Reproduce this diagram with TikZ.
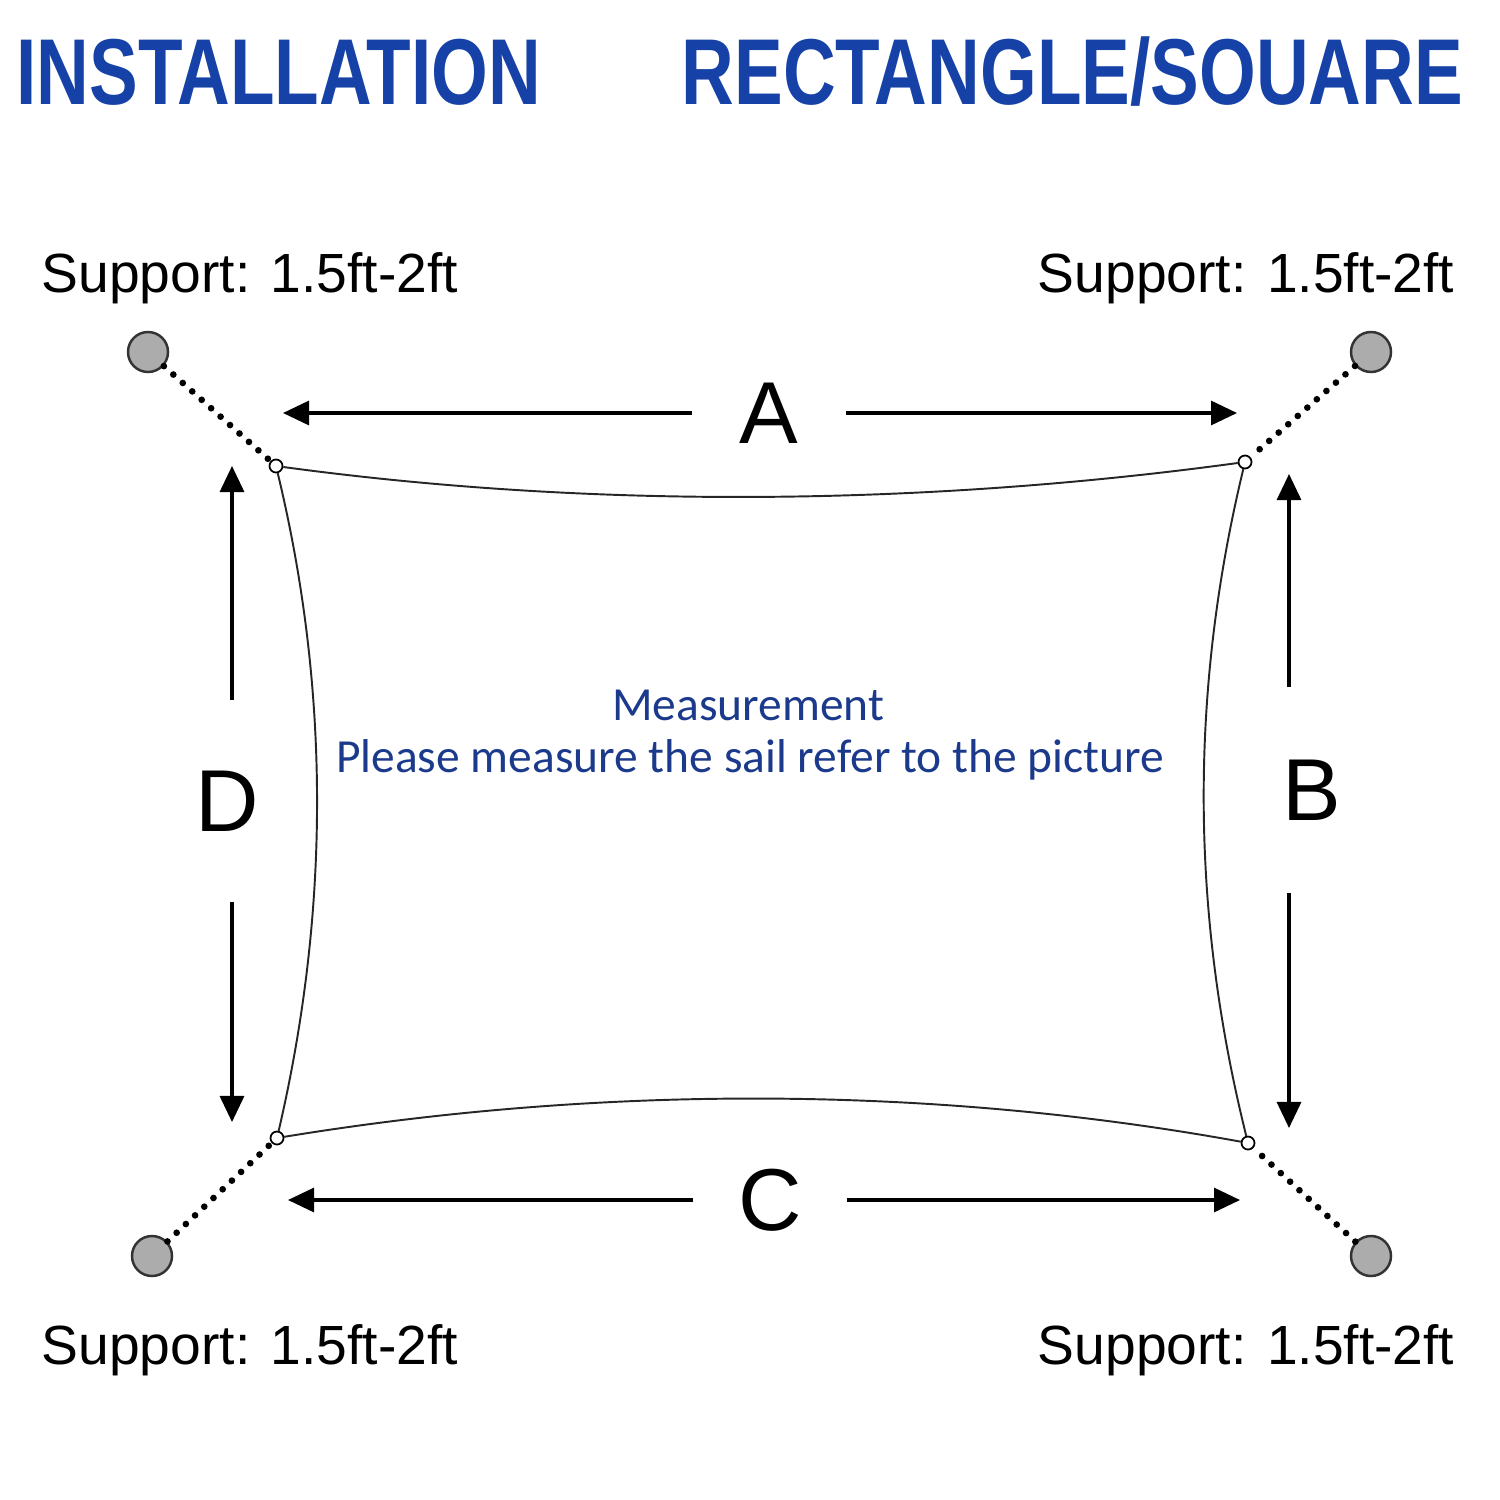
\documentclass[tikz,border=0pt]{standalone}
\usepackage{fontspec}
\setmainfont{Liberation Sans}
\newfontfamily\titlefont[FakeStretch=0.78]{Liberation Sans}
\newfontfamily\notefont{Carlito}
\usetikzlibrary{arrows.meta}
\definecolor{titleblue}{RGB}{22,66,168}
\definecolor{noteblue}{RGB}{28,58,140}
\definecolor{polegray}{RGB}{172,172,172}

\begin{document}
\begin{tikzpicture}[
        x=0.01cm, y=-0.01cm,
        title/.style={font=\titlefont\bfseries\fontsize{26.6}{30}\selectfont, text=titleblue, inner sep=0pt, anchor=base west},
        support/.style={circle, draw=black!80, fill=polegray, line width=0.7pt, minimum size=0.4cm, inner sep=0pt},
        grommet/.style={circle, draw, fill=white, line width=0.5pt, minimum size=0.13cm, inner sep=0pt},
        tag/.style={font=\fontsize{15.7}{19}\selectfont, inner sep=0pt},
        note/.style={font=\notefont\fontsize{13.5}{16}\selectfont, text=noteblue, inner sep=0pt},
        dimlabel/.style={font=\fontsize{25}{30}\selectfont, inner sep=0pt},
        dimarrow/.style={-{Triangle[length=0.26cm,width=0.24cm]}, line width=0.9pt},
        rope/.style={line width=1.9pt, line cap=round, dash pattern=on 0pt off 3.6pt},
        edge/.style={line width=0.55pt, draw=black!85}
    ]
        \useasboundingbox (0,0) rectangle (1500,1500);

        % heading
        \node[title] (head1) at (16,105) {INSTALLATION};
        \node[title] (head2) at (681,105) {RECTANGLE/SOUARE};

        % posts and their labels
        \node[support] (p1) at (148,352) {};
        \node[support] (p2) at (1371,352) {};
        \node[support] (p3) at (152,1256) {};
        \node[support] (p4) at (1371,1256) {};
        \node[tag, anchor=base west] (t1) at (41,292) {Support: 1.5ft-2ft};
        \node[tag, anchor=base east] (t2) at (1455,292) {Support: 1.5ft-2ft};
        \node[tag, anchor=base west] (t3) at (41,1364) {Support: 1.5ft-2ft};
        \node[tag, anchor=base east] (t4) at (1455,1364) {Support: 1.5ft-2ft};

        % sail corners
        \node[grommet] (tl) at (276,466) {};
        \node[grommet] (tr) at (1245,462) {};
        \node[grommet] (bl) at (277,1138) {};
        \node[grommet] (br) at (1248,1143) {};

        \draw[rope] (p1) -- (tl);
        \draw[rope] (p2) -- (tr);
        \draw[rope] (p3) -- (bl);
        \draw[rope] (p4) -- (br);

        % sail
        \draw[edge] (tl) .. controls (600,510) and (930,505) .. (tr);
        \draw[edge] (tr) .. controls (1190,690) and (1190,910) .. (br);
        \draw[edge] (br) .. controls (930,1085) and (600,1085) .. (bl);
        \draw[edge] (bl) .. controls (330,910) and (330,690) .. (tl);

        \node[note] (m1) at (748,705) {Measurement};
        \node[note] (m2) at (750,760) {Please measure the sail refer to the picture};

        % dimensions
        \coordinate (a-l) at (283,413);
        \coordinate (a-r) at (1237,413);
        \coordinate (c-l) at (288,1200);
        \coordinate (c-r) at (1240,1200);
        \coordinate (d-t) at (232,466);
        \coordinate (d-b) at (232,1122);
        \coordinate (b-t) at (1289,474);
        \coordinate (b-b) at (1289,1128);

        \node[dimlabel, minimum width=1.53cm] (A) at (769,413) {A};
        \node[dimlabel, minimum width=1.52cm] (C) at (770,1200) {C};
        \node[dimlabel, minimum height=2.01cm] (D) at (227,801) {D};
        \node[dimlabel, minimum height=2.04cm] (B) at (1312,790) {B};

        \draw[dimarrow] (A.west) -- (a-l);
        \draw[dimarrow] (A.east) -- (a-r);
        \draw[dimarrow] (C.west) -- (c-l);
        \draw[dimarrow] (C.east) -- (c-r);
        \draw[dimarrow] (D.north -| d-t) -- (d-t);
        \draw[dimarrow] (D.south -| d-b) -- (d-b);
        \draw[dimarrow] (B.north -| b-t) -- (b-t);
        \draw[dimarrow] (B.south -| b-b) -- (b-b);
    \end{tikzpicture}
\end{document}
